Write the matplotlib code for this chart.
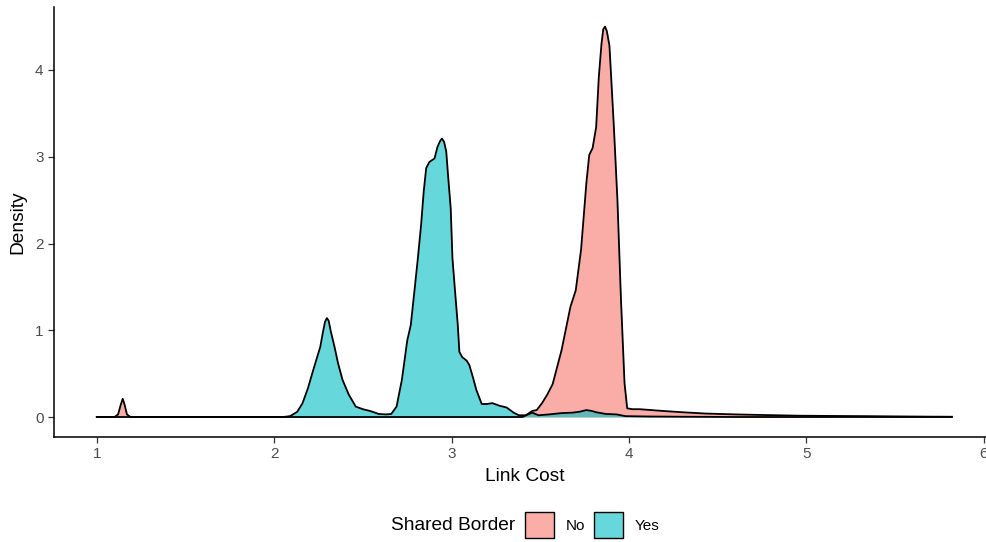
import matplotlib.pyplot as plt
from matplotlib.patches import Patch

plt.rcParams['font.family'] = ['Liberation Sans', 'DejaVu Sans']

# density curve knots for "No" (no shared border)
no_x = [1.0, 1.10, 1.12, 1.135, 1.146, 1.157, 1.17, 1.19, 3.40, 3.42, 3.44, 3.455, 3.48,
        3.51, 3.54, 3.57, 3.62, 3.67, 3.70, 3.73, 3.76, 3.776, 3.795, 3.815, 3.83,
        3.845, 3.855, 3.865, 3.875, 3.89, 3.915, 3.935, 3.955, 3.975, 3.99, 4.02, 4.06,
        4.19, 4.30, 4.43, 4.60, 4.71, 4.96, 5.15, 5.33, 5.50, 5.70, 5.82]
no_y = [0.0, 0.0, 0.03, 0.14, 0.21, 0.14, 0.03, 0.0, 0.0, 0.02, 0.05, 0.07, 0.08,
        0.16, 0.26, 0.38, 0.77, 1.27, 1.46, 1.93, 2.70, 3.02, 3.10, 3.34, 3.92,
        4.30, 4.47, 4.50, 4.45, 4.28, 3.34, 2.50, 1.35, 0.39, 0.10, 0.09, 0.09,
        0.07, 0.055, 0.04, 0.03, 0.025, 0.015, 0.012, 0.01, 0.007, 0.004, 0.003]

# density curve knots for "Yes" (shared border)
yes_x = [1.0, 2.05, 2.09, 2.13, 2.16, 2.19, 2.22, 2.26, 2.275, 2.287, 2.297, 2.307, 2.32, 2.34,
         2.36, 2.385, 2.42, 2.46, 2.50, 2.54, 2.59, 2.63, 2.66, 2.69, 2.72, 2.75,
         2.77, 2.79, 2.81, 2.828, 2.843, 2.857, 2.875, 2.904, 2.92, 2.935, 2.946, 2.958, 2.97,
         2.98, 2.995, 3.005, 3.02, 3.035, 3.044, 3.06, 3.085, 3.10, 3.12, 3.14,
         3.17, 3.20, 3.23, 3.27, 3.31, 3.35, 3.38, 3.42, 3.455, 3.49, 3.55, 3.62,
         3.68, 3.72, 3.76, 3.79, 3.815, 3.87, 3.93, 3.98, 4.1, 4.3, 4.6, 5.82]
yes_y = [0.0, 0.0, 0.01, 0.06, 0.16, 0.33, 0.54, 0.81, 0.98, 1.10, 1.14, 1.11, 0.98, 0.81,
         0.62, 0.43, 0.26, 0.12, 0.09, 0.07, 0.035, 0.03, 0.035, 0.12, 0.43, 0.88,
         1.06, 1.44, 1.83, 2.21, 2.60, 2.87, 2.94, 2.98, 3.11, 3.18, 3.21, 3.17, 3.06,
         2.79, 2.41, 1.83, 1.44, 1.06, 0.75, 0.69, 0.65, 0.60, 0.46, 0.31,
         0.15, 0.15, 0.16, 0.13, 0.11, 0.05, 0.02, 0.02, 0.05, 0.02, 0.03, 0.045,
         0.05, 0.06, 0.08, 0.07, 0.055, 0.035, 0.03, 0.01, 0.006, 0.003, 0.0, 0.0]

groups = ['No', 'Yes']
fills = [(0.984, 0.678, 0.655), (0.4, 0.847, 0.863)]

fig = plt.figure(figsize=(9.86, 5.42), dpi=100)
ax = fig.add_axes([0.0548, 0.1946, 0.9539, 0.7923])

# "No" first, then "Yes" on top of it
ax.fill_between(no_x, 0, no_y, color='#F8766D', alpha=0.6, linewidth=0)
ax.plot(no_x, no_y, color='black', linewidth=1.3, solid_joinstyle='round')
ax.fill_between(yes_x, 0, yes_y, color='#00BFC4', alpha=0.6, linewidth=0)
ax.plot(yes_x, yes_y, color='black', linewidth=1.3, solid_joinstyle='round')

ax.set_xlim(0.759, 6.061)
ax.set_ylim(-0.225, 4.725)
ax.set_xticks([1, 2, 3, 4, 5, 6])
ax.set_yticks([0, 1, 2, 3, 4])
ax.tick_params(colors='#333333', labelcolor='#4D4D4D', labelsize=11, length=4, width=0.9)
for side in ['top', 'right']:
    ax.spines[side].set_visible(False)
for side in ['left', 'bottom']:
    ax.spines[side].set_linewidth(1.1)
ax.set_xlabel('Link Cost', fontsize=13.8, labelpad=5)
ax.set_ylabel('Density', fontsize=13.8, labelpad=6)

# legend along the bottom, title on the left
fig.text(0.523, 0.031, 'Shared Border', fontsize=13.8, ha='right', va='center')
handles = [Patch(facecolor=f, edgecolor='black', linewidth=1.0) for f in fills]
fig.legend(handles, groups, loc='center left', bbox_to_anchor=(0.532, 0.031), ncol=2,
           frameon=False, fontsize=11, handlelength=1.95, handleheight=2.2,
           handletextpad=0.75, columnspacing=0.55, borderaxespad=0, borderpad=0)

fig.savefig('out.png', dpi=100)
